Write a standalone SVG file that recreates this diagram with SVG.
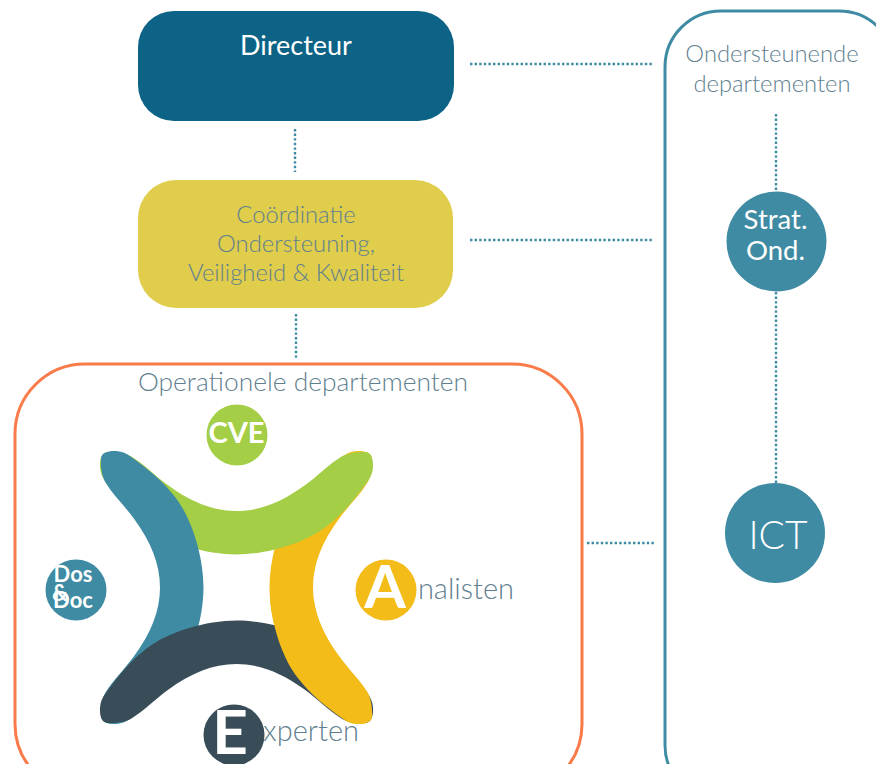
<svg xmlns="http://www.w3.org/2000/svg" xmlns:xlink="http://www.w3.org/1999/xlink" width="876" height="764" viewBox="0 0 876 764">
<style>
text{font-family:"Lato","Liberation Sans",sans-serif;text-anchor:middle}
.l{font-weight:300;fill:#5F7F8F}
.w{fill:#fff}
.d{fill:none;stroke:#3E8BA3;stroke-width:2.4;stroke-dasharray:2.4 2.2}
</style>
<defs>
<path id="arc" d="M0,-76.500C24,-76.500 46,-86 68,-102C82,-112 92,-123 105,-131C112,-135 122,-136 129,-135.500C135,-135 137,-128 136.500,-120C136,-114 134,-110 131,-106C118,-88 107,-74 90,-61C68,-44 30,-33 0,-33C-30,-33 -68,-44 -90,-61C-107,-74 -118,-88 -131,-106C-134,-110 -136,-114 -136.500,-120C-137,-128 -135,-135 -129,-135.500C-122,-136 -112,-135 -105,-131C-92,-123 -82,-112 -68,-102C-46,-86 -24,-76.500 0,-76.500Z"/>
<clipPath id="low"><rect x="230" y="600" width="160" height="140"/></clipPath>
</defs>
<rect width="876" height="764" fill="#fff"/>
<g id="connectors">
<path class="d" d="M470,64H652"/>
<path class="d" d="M470,240H652"/>
<path class="d" d="M587,543H655"/>
<path class="d" d="M295,129V172"/>
<path class="d" d="M296,314V358"/>
<path class="d" d="M776,114V192"/>
<path class="d" d="M776,292V484"/>
</g>
<g id="directeur"><rect x="138" y="11" width="316" height="110" rx="36" fill="#0D6386"/><text class="w" x="296" y="55" font-size="27">Directeur</text></g>
<g id="coordinatie"><rect x="138" y="180" width="315" height="128" rx="38" fill="#E0CD4C"/>
<text class="l" font-size="23.800"><tspan x="296" y="223">Coördinatie</tspan><tspan x="296" y="252">Ondersteuning,</tspan><tspan x="296" y="281">Veiligheid &amp; Kwaliteit</tspan></text></g>
<g id="operationele"><rect x="15" y="364" width="567" height="430" rx="70" fill="none" stroke="#F97B4A" stroke-width="3"/><text class="l" x="303" y="391" font-size="26.400">Operationele departementen</text></g>
<g id="ondersteunende"><rect x="665" y="11" width="230" height="790" rx="56" fill="none" stroke="#3E8BA3" stroke-width="3"/><text class="l" font-size="23.800"><tspan x="772" y="62">Ondersteunende</tspan><tspan x="772" y="92">departementen</tspan></text></g>
<g id="strat"><circle cx="776.500" cy="241.500" r="50" fill="#3E8BA3"/><text class="w" font-size="27.500"><tspan x="775.500" y="229">Strat.</tspan><tspan x="775.500" y="260">Ond.</tspan></text></g>
<g id="ict"><circle cx="775" cy="533" r="50" fill="#3E8BA3"/><text class="w" x="778" y="549" font-size="39" font-weight="300">ICT</text></g>
<g id="cross">
<use xlink:href="#arc" href="#arc" transform="translate(236.500,587.500) rotate(90)" fill="#F3BC19"/>
<use xlink:href="#arc" href="#arc" transform="translate(236.500,587.500)" fill="#A5CE47"/>
<use xlink:href="#arc" href="#arc" transform="translate(236.500,587.500) rotate(-90)" fill="#3E8BA3"/>
<use xlink:href="#arc" href="#arc" transform="translate(236.500,587.500) rotate(180)" fill="#394D59"/>
<g clip-path="url(#low)"><use xlink:href="#arc" href="#arc" transform="translate(236.500,587.500) rotate(90)" fill="#F3BC19"/></g>
</g>
<g id="cve"><circle cx="237" cy="435" r="30.500" fill="#A5CE47"/><text class="w" x="236.500" y="443" font-size="29" font-weight="700">CVE</text></g>
<g id="dosdoc"><circle cx="76" cy="590" r="30.500" fill="#3E8BA3"/><text class="w" font-size="22" font-weight="700"><tspan x="73" y="582">Dos</tspan><tspan x="60" y="601">&amp;</tspan><tspan x="73" y="608">Doc</tspan></text></g>
<g id="analisten"><circle cx="386" cy="590" r="30.500" fill="#F3BC19"/><text class="w" x="385" y="608" font-size="60" font-weight="700">A</text><text class="l" x="466" y="599" font-size="29">nalisten</text></g>
<g id="experten"><circle cx="234" cy="735" r="30.500" fill="#394D59"/><text class="w" x="230" y="754" font-size="62" font-weight="700">E</text><text class="l" x="311" y="741" font-size="29">xperten</text></g>
</svg>
